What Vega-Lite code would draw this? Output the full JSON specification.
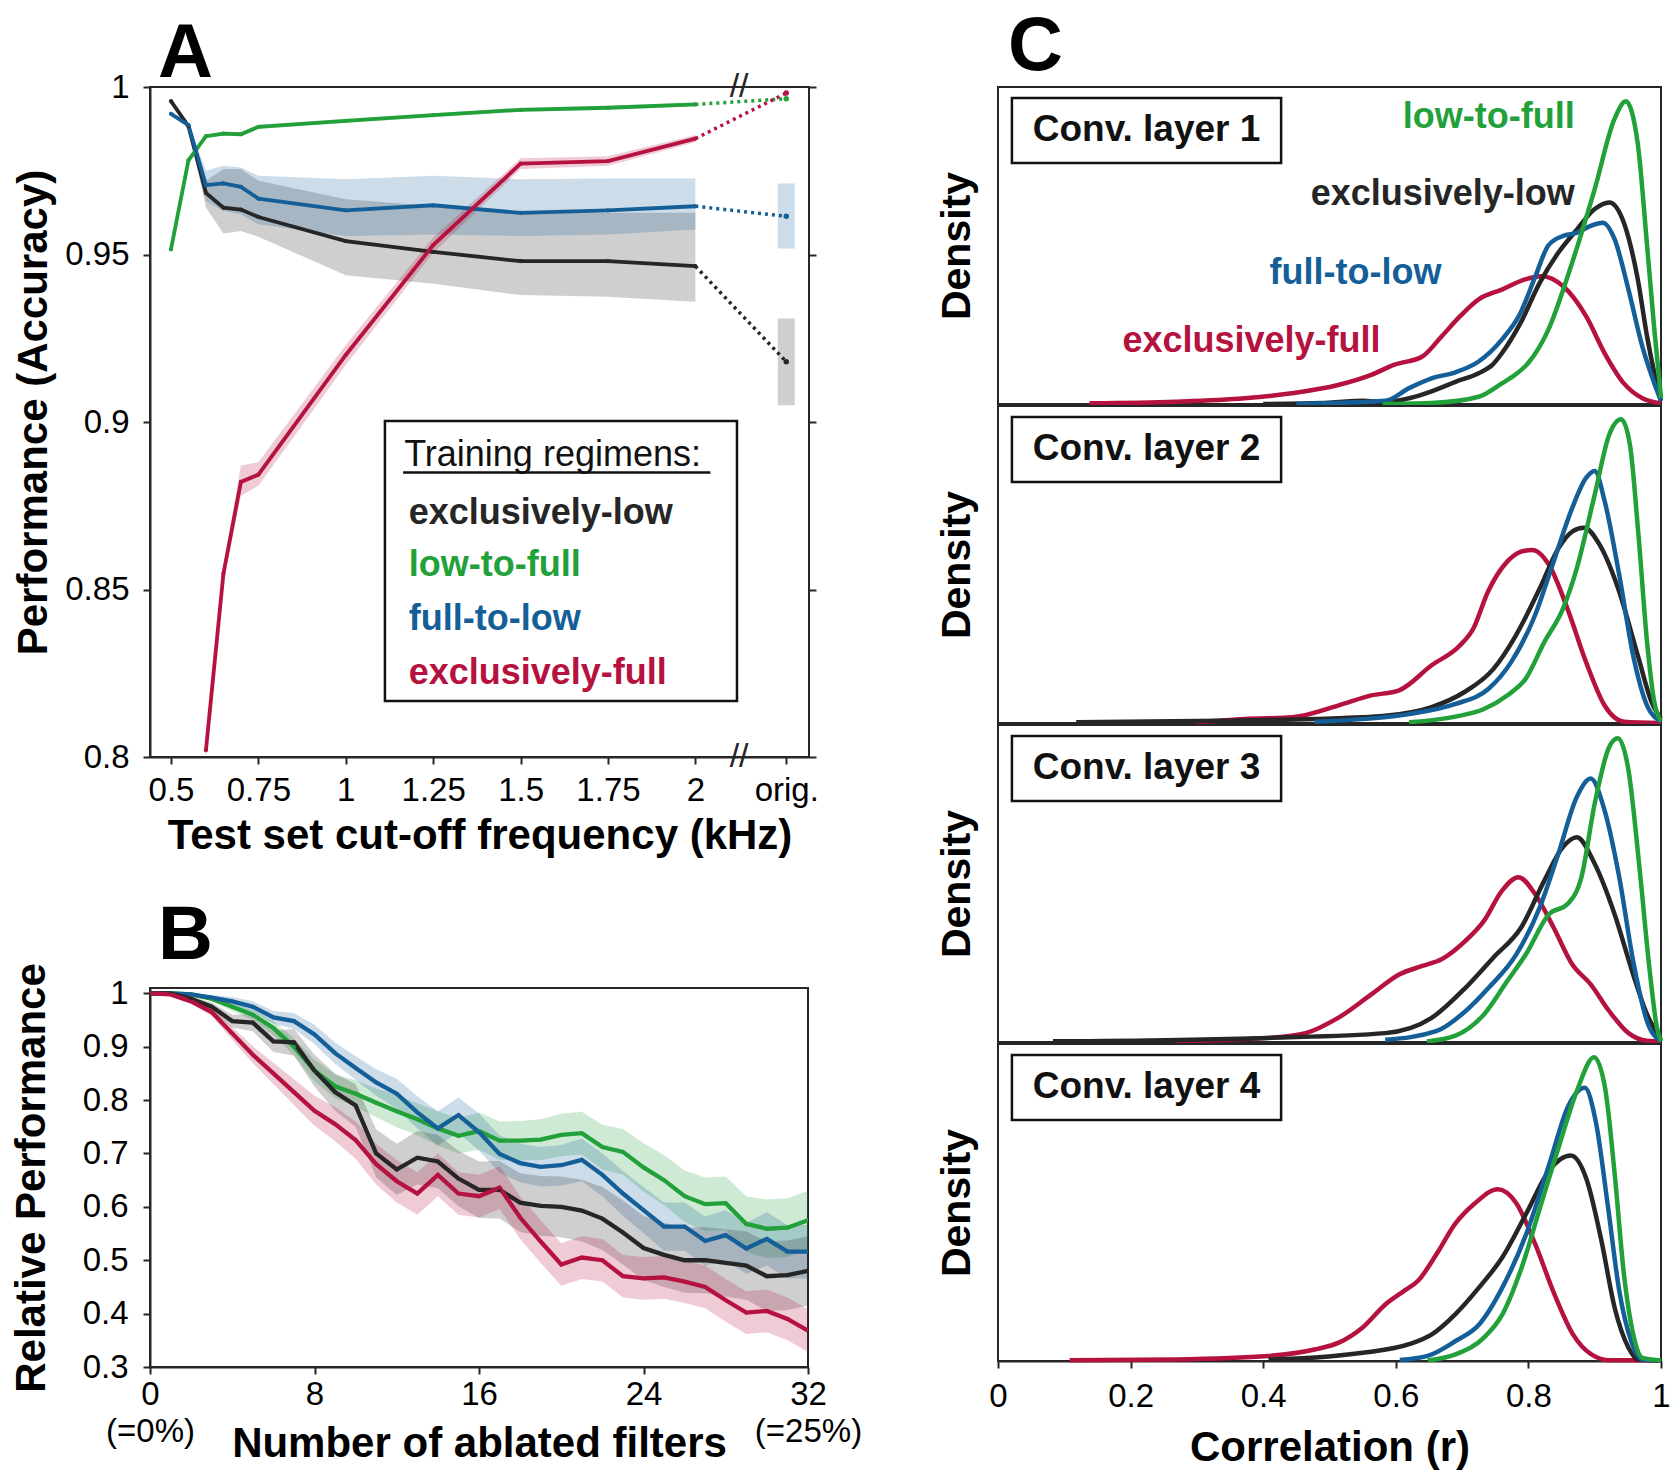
{
"$schema": "https://vega.github.io/schema/vega-lite/v6.json",
"background": "white",
"padding": {"left": 9, "top": 8, "right": 5, "bottom": 5},
"config": {
  "font": "Liberation Sans",
  "view": {"stroke": "#262626", "strokeWidth": 2},
  "axis": {"labelFont": "Liberation Sans", "titleFont": "Liberation Sans", "labelFontSize": 33, "labelColor": "#000", "titleFontSize": 42, "titleFontWeight": "bold", "titleColor": "#000", "grid": false, "domainColor": "#262626", "domainWidth": 2, "tickColor": "#262626", "tickWidth": 2, "tickSize": 7, "labelFlush": false, "labelOverlap": false},
  "title": {"font": "Liberation Sans", "fontSize": 76, "fontWeight": "bold", "anchor": "start", "frame": "group", "color": "#000"},
  "text": {"font": "Liberation Sans"}
},
"datasets": {
  "A": [
    {"s":"el","x":0.5,"y":0.9958,"lo":0.9952,"hi":0.9964},
    {"s":"el","x":0.55,"y":0.9883,"lo":0.9875,"hi":0.989},
    {"s":"el","x":0.6,"y":0.9684,"lo":0.964,"hi":0.972},
    {"s":"el","x":0.65,"y":0.964,"lo":0.9563,"hi":0.9755},
    {"s":"el","x":0.7,"y":0.9634,"lo":0.957,"hi":0.9755},
    {"s":"el","x":0.75,"y":0.9612,"lo":0.9553,"hi":0.972},
    {"s":"el","x":1,"y":0.954,"lo":0.9438,"hi":0.9665},
    {"s":"el","x":1.25,"y":0.9508,"lo":0.9413,"hi":0.9645},
    {"s":"el","x":1.5,"y":0.948,"lo":0.9379,"hi":0.963},
    {"s":"el","x":1.75,"y":0.948,"lo":0.9374,"hi":0.9625},
    {"s":"el","x":2,"y":0.9465,"lo":0.9359,"hi":0.9625},
    {"s":"el","x":2.26,"y":0.918,"lo":0.905,"hi":0.9309},
    {"s":"lf","x":0.5,"y":0.9515,"lo":0.951,"hi":0.952},
    {"s":"lf","x":0.55,"y":0.9781,"lo":0.9775,"hi":0.9787},
    {"s":"lf","x":0.6,"y":0.9853,"lo":0.9847,"hi":0.9859},
    {"s":"lf","x":0.65,"y":0.9861,"lo":0.9855,"hi":0.9867},
    {"s":"lf","x":0.7,"y":0.9859,"lo":0.9853,"hi":0.9865},
    {"s":"lf","x":0.75,"y":0.9881,"lo":0.9875,"hi":0.9887},
    {"s":"lf","x":1,"y":0.9899,"lo":0.9893,"hi":0.9905},
    {"s":"lf","x":1.25,"y":0.9916,"lo":0.991,"hi":0.9922},
    {"s":"lf","x":1.5,"y":0.9932,"lo":0.9926,"hi":0.9938},
    {"s":"lf","x":1.75,"y":0.9938,"lo":0.9932,"hi":0.9944},
    {"s":"lf","x":2,"y":0.9948,"lo":0.9942,"hi":0.9954},
    {"s":"lf","x":2.26,"y":0.9965,"lo":0.996,"hi":0.997},
    {"s":"fl","x":0.5,"y":0.992,"lo":0.9914,"hi":0.9926},
    {"s":"fl","x":0.55,"y":0.9886,"lo":0.988,"hi":0.9892},
    {"s":"fl","x":0.6,"y":0.9707,"lo":0.966,"hi":0.975},
    {"s":"fl","x":0.65,"y":0.9712,"lo":0.963,"hi":0.9765},
    {"s":"fl","x":0.7,"y":0.9702,"lo":0.962,"hi":0.976},
    {"s":"fl","x":0.75,"y":0.9667,"lo":0.959,"hi":0.9735},
    {"s":"fl","x":1,"y":0.9632,"lo":0.9555,"hi":0.9725},
    {"s":"fl","x":1.25,"y":0.9647,"lo":0.956,"hi":0.9735},
    {"s":"fl","x":1.5,"y":0.9624,"lo":0.9555,"hi":0.9725},
    {"s":"fl","x":1.75,"y":0.9632,"lo":0.956,"hi":0.9727},
    {"s":"fl","x":2,"y":0.9644,"lo":0.9575,"hi":0.9727},
    {"s":"fl","x":2.26,"y":0.9614,"lo":0.9518,"hi":0.9712},
    {"s":"ef","x":0.6,"y":0.802,"lo":0.8,"hi":0.804},
    {"s":"ef","x":0.65,"y":0.8547,"lo":0.852,"hi":0.857},
    {"s":"ef","x":0.7,"y":0.8821,"lo":0.878,"hi":0.887},
    {"s":"ef","x":0.75,"y":0.8843,"lo":0.881,"hi":0.888},
    {"s":"ef","x":1,"y":0.92,"lo":0.917,"hi":0.923},
    {"s":"ef","x":1.25,"y":0.9528,"lo":0.9505,"hi":0.9551},
    {"s":"ef","x":1.5,"y":0.9771,"lo":0.9755,"hi":0.9787},
    {"s":"ef","x":1.75,"y":0.9779,"lo":0.9765,"hi":0.9793},
    {"s":"ef","x":2,"y":0.9846,"lo":0.9835,"hi":0.9857},
    {"s":"ef","x":2.26,"y":0.9982,"lo":0.9978,"hi":0.9986}
  ],
  "legA": [
    {"s":"el","t":"exclusively-low","y":0.8722},
    {"s":"lf","t":"low-to-full","y":0.8567},
    {"s":"fl","t":"full-to-low","y":0.8407},
    {"s":"ef","t":"exclusively-full","y":0.8245}
  ],
  "B": [
    {"s":"lf","x":0,"y":1,"lo":1,"hi":1},{"s":"lf","x":1,"y":1,"lo":1,"hi":1},{"s":"lf","x":2,"y":0.998,"lo":0.995,"hi":1.001},{"s":"lf","x":3,"y":0.99,"lo":0.985,"hi":0.995},{"s":"lf","x":4,"y":0.975,"lo":0.967,"hi":0.983},{"s":"lf","x":5,"y":0.96,"lo":0.95,"hi":0.97},{"s":"lf","x":6,"y":0.935,"lo":0.922,"hi":0.948},{"s":"lf","x":7,"y":0.9,"lo":0.884,"hi":0.916},{"s":"lf","x":8,"y":0.855,"lo":0.835,"hi":0.875},{"s":"lf","x":9,"y":0.826,"lo":0.804,"hi":0.848},{"s":"lf","x":10,"y":0.812,"lo":0.787,"hi":0.837},{"s":"lf","x":11,"y":0.795,"lo":0.768,"hi":0.822},{"s":"lf","x":12,"y":0.779,"lo":0.749,"hi":0.809},{"s":"lf","x":13,"y":0.764,"lo":0.734,"hi":0.794},{"s":"lf","x":14,"y":0.747,"lo":0.715,"hi":0.779},{"s":"lf","x":15,"y":0.733,"lo":0.7,"hi":0.766},{"s":"lf","x":16,"y":0.742,"lo":0.707,"hi":0.777},{"s":"lf","x":17,"y":0.724,"lo":0.688,"hi":0.76},{"s":"lf","x":18,"y":0.724,"lo":0.687,"hi":0.761},{"s":"lf","x":19,"y":0.726,"lo":0.688,"hi":0.764},{"s":"lf","x":20,"y":0.735,"lo":0.695,"hi":0.775},{"s":"lf","x":21,"y":0.738,"lo":0.698,"hi":0.778},{"s":"lf","x":22,"y":0.712,"lo":0.67,"hi":0.754},{"s":"lf","x":23,"y":0.703,"lo":0.66,"hi":0.746},{"s":"lf","x":24,"y":0.674,"lo":0.629,"hi":0.719},{"s":"lf","x":25,"y":0.65,"lo":0.603,"hi":0.697},{"s":"lf","x":26,"y":0.62,"lo":0.572,"hi":0.668},{"s":"lf","x":27,"y":0.605,"lo":0.555,"hi":0.655},{"s":"lf","x":28,"y":0.607,"lo":0.557,"hi":0.657},{"s":"lf","x":29,"y":0.568,"lo":0.516,"hi":0.62},{"s":"lf","x":30,"y":0.559,"lo":0.504,"hi":0.614},{"s":"lf","x":31,"y":0.561,"lo":0.506,"hi":0.616},{"s":"lf","x":32,"y":0.575,"lo":0.52,"hi":0.63},
    {"s":"fl","x":0,"y":1,"lo":1,"hi":1},{"s":"fl","x":1,"y":1,"lo":1,"hi":1},{"s":"fl","x":2,"y":0.998,"lo":0.995,"hi":1.001},{"s":"fl","x":3,"y":0.992,"lo":0.987,"hi":0.997},{"s":"fl","x":4,"y":0.985,"lo":0.977,"hi":0.993},{"s":"fl","x":5,"y":0.975,"lo":0.965,"hi":0.985},{"s":"fl","x":6,"y":0.955,"lo":0.943,"hi":0.967},{"s":"fl","x":7,"y":0.948,"lo":0.933,"hi":0.963},{"s":"fl","x":8,"y":0.923,"lo":0.905,"hi":0.941},{"s":"fl","x":9,"y":0.888,"lo":0.868,"hi":0.908},{"s":"fl","x":10,"y":0.86,"lo":0.838,"hi":0.882},{"s":"fl","x":11,"y":0.833,"lo":0.808,"hi":0.858},{"s":"fl","x":12,"y":0.812,"lo":0.784,"hi":0.84},{"s":"fl","x":13,"y":0.777,"lo":0.747,"hi":0.807},{"s":"fl","x":14,"y":0.747,"lo":0.715,"hi":0.779},{"s":"fl","x":15,"y":0.772,"lo":0.739,"hi":0.805},{"s":"fl","x":16,"y":0.74,"lo":0.705,"hi":0.775},{"s":"fl","x":17,"y":0.699,"lo":0.664,"hi":0.734},{"s":"fl","x":18,"y":0.682,"lo":0.646,"hi":0.718},{"s":"fl","x":19,"y":0.675,"lo":0.638,"hi":0.712},{"s":"fl","x":20,"y":0.678,"lo":0.64,"hi":0.716},{"s":"fl","x":21,"y":0.688,"lo":0.648,"hi":0.728},{"s":"fl","x":22,"y":0.66,"lo":0.62,"hi":0.7},{"s":"fl","x":23,"y":0.625,"lo":0.583,"hi":0.667},{"s":"fl","x":24,"y":0.594,"lo":0.551,"hi":0.637},{"s":"fl","x":25,"y":0.563,"lo":0.518,"hi":0.608},{"s":"fl","x":26,"y":0.563,"lo":0.518,"hi":0.608},{"s":"fl","x":27,"y":0.536,"lo":0.49,"hi":0.582},{"s":"fl","x":28,"y":0.547,"lo":0.5,"hi":0.594},{"s":"fl","x":29,"y":0.522,"lo":0.474,"hi":0.57},{"s":"fl","x":30,"y":0.54,"lo":0.49,"hi":0.59},{"s":"fl","x":31,"y":0.516,"lo":0.466,"hi":0.566},{"s":"fl","x":32,"y":0.516,"lo":0.466,"hi":0.566},
    {"s":"el","x":0,"y":1,"lo":1,"hi":1},{"s":"el","x":1,"y":1,"lo":1,"hi":1},{"s":"el","x":2,"y":0.99,"lo":0.986,"hi":0.994},{"s":"el","x":3,"y":0.975,"lo":0.967,"hi":0.983},{"s":"el","x":4,"y":0.948,"lo":0.936,"hi":0.96},{"s":"el","x":5,"y":0.945,"lo":0.929,"hi":0.961},{"s":"el","x":6,"y":0.91,"lo":0.89,"hi":0.93},{"s":"el","x":7,"y":0.908,"lo":0.883,"hi":0.933},{"s":"el","x":8,"y":0.855,"lo":0.825,"hi":0.885},{"s":"el","x":9,"y":0.815,"lo":0.78,"hi":0.85},{"s":"el","x":10,"y":0.79,"lo":0.75,"hi":0.83},{"s":"el","x":11,"y":0.7,"lo":0.655,"hi":0.745},{"s":"el","x":12,"y":0.67,"lo":0.622,"hi":0.718},{"s":"el","x":13,"y":0.692,"lo":0.642,"hi":0.742},{"s":"el","x":14,"y":0.685,"lo":0.635,"hi":0.735},{"s":"el","x":15,"y":0.653,"lo":0.601,"hi":0.705},{"s":"el","x":16,"y":0.632,"lo":0.579,"hi":0.685},{"s":"el","x":17,"y":0.632,"lo":0.578,"hi":0.686},{"s":"el","x":18,"y":0.608,"lo":0.553,"hi":0.663},{"s":"el","x":19,"y":0.602,"lo":0.546,"hi":0.658},{"s":"el","x":20,"y":0.6,"lo":0.543,"hi":0.657},{"s":"el","x":21,"y":0.593,"lo":0.535,"hi":0.651},{"s":"el","x":22,"y":0.578,"lo":0.519,"hi":0.637},{"s":"el","x":23,"y":0.552,"lo":0.492,"hi":0.612},{"s":"el","x":24,"y":0.523,"lo":0.463,"hi":0.583},{"s":"el","x":25,"y":0.51,"lo":0.45,"hi":0.57},{"s":"el","x":26,"y":0.5,"lo":0.439,"hi":0.561},{"s":"el","x":27,"y":0.5,"lo":0.438,"hi":0.562},{"s":"el","x":28,"y":0.495,"lo":0.432,"hi":0.558},{"s":"el","x":29,"y":0.49,"lo":0.426,"hi":0.554},{"s":"el","x":30,"y":0.47,"lo":0.405,"hi":0.535},{"s":"el","x":31,"y":0.472,"lo":0.407,"hi":0.537},{"s":"el","x":32,"y":0.48,"lo":0.415,"hi":0.545},
    {"s":"ef","x":0,"y":1,"lo":1,"hi":1},{"s":"ef","x":1,"y":0.998,"lo":0.996,"hi":1},{"s":"ef","x":2,"y":0.985,"lo":0.981,"hi":0.989},{"s":"ef","x":3,"y":0.965,"lo":0.957,"hi":0.973},{"s":"ef","x":4,"y":0.925,"lo":0.913,"hi":0.937},{"s":"ef","x":5,"y":0.885,"lo":0.869,"hi":0.901},{"s":"ef","x":6,"y":0.85,"lo":0.83,"hi":0.87},{"s":"ef","x":7,"y":0.815,"lo":0.791,"hi":0.839},{"s":"ef","x":8,"y":0.78,"lo":0.752,"hi":0.808},{"s":"ef","x":9,"y":0.755,"lo":0.723,"hi":0.787},{"s":"ef","x":10,"y":0.725,"lo":0.69,"hi":0.76},{"s":"ef","x":11,"y":0.68,"lo":0.642,"hi":0.718},{"s":"ef","x":12,"y":0.648,"lo":0.608,"hi":0.688},{"s":"ef","x":13,"y":0.625,"lo":0.585,"hi":0.665},{"s":"ef","x":14,"y":0.66,"lo":0.62,"hi":0.7},{"s":"ef","x":15,"y":0.625,"lo":0.585,"hi":0.665},{"s":"ef","x":16,"y":0.62,"lo":0.58,"hi":0.66},{"s":"ef","x":17,"y":0.636,"lo":0.596,"hi":0.676},{"s":"ef","x":18,"y":0.58,"lo":0.54,"hi":0.62},{"s":"ef","x":19,"y":0.535,"lo":0.495,"hi":0.575},{"s":"ef","x":20,"y":0.492,"lo":0.452,"hi":0.532},{"s":"ef","x":21,"y":0.505,"lo":0.465,"hi":0.545},{"s":"ef","x":22,"y":0.5,"lo":0.46,"hi":0.54},{"s":"ef","x":23,"y":0.47,"lo":0.43,"hi":0.51},{"s":"ef","x":24,"y":0.466,"lo":0.426,"hi":0.506},{"s":"ef","x":25,"y":0.468,"lo":0.428,"hi":0.508},{"s":"ef","x":26,"y":0.46,"lo":0.42,"hi":0.5},{"s":"ef","x":27,"y":0.45,"lo":0.41,"hi":0.49},{"s":"ef","x":28,"y":0.425,"lo":0.385,"hi":0.465},{"s":"ef","x":29,"y":0.402,"lo":0.362,"hi":0.442},{"s":"ef","x":30,"y":0.405,"lo":0.365,"hi":0.445},{"s":"ef","x":31,"y":0.39,"lo":0.35,"hi":0.43},{"s":"ef","x":32,"y":0.368,"lo":0.328,"hi":0.408}
  ],
  "C": [
    {"p":1,"s":"ef","r":0.138,"d":0.002},{"p":1,"s":"ef","r":0.267,"d":0.007},{"p":1,"s":"ef","r":0.372,"d":0.018},{"p":1,"s":"ef","r":0.443,"d":0.034},{"p":1,"s":"ef","r":0.513,"d":0.06},{"p":1,"s":"ef","r":0.563,"d":0.092},{"p":1,"s":"ef","r":0.598,"d":0.124},{"p":1,"s":"ef","r":0.64,"d":0.15},{"p":1,"s":"ef","r":0.669,"d":0.213},{"p":1,"s":"ef","r":0.697,"d":0.277},{"p":1,"s":"ef","r":0.725,"d":0.33},{"p":1,"s":"ef","r":0.76,"d":0.361},{"p":1,"s":"ef","r":0.795,"d":0.393},{"p":1,"s":"ef","r":0.82,"d":0.403},{"p":1,"s":"ef","r":0.852,"d":0.372},{"p":1,"s":"ef","r":0.887,"d":0.277},{"p":1,"s":"ef","r":0.915,"d":0.16},{"p":1,"s":"ef","r":0.944,"d":0.065},{"p":1,"s":"ef","r":0.972,"d":0.018},{"p":1,"s":"ef","r":1.0,"d":0.002},
    {"p":1,"s":"el","r":0.40,"d":0.0},{"p":1,"s":"el","r":0.5,"d":0.004},{"p":1,"s":"el","r":0.55,"d":0.01},{"p":1,"s":"el","r":0.584,"d":0.006},{"p":1,"s":"el","r":0.62,"d":0.018},{"p":1,"s":"el","r":0.654,"d":0.04},{"p":1,"s":"el","r":0.69,"d":0.07},{"p":1,"s":"el","r":0.725,"d":0.097},{"p":1,"s":"el","r":0.746,"d":0.124},{"p":1,"s":"el","r":0.76,"d":0.16},{"p":1,"s":"el","r":0.788,"d":0.255},{"p":1,"s":"el","r":0.817,"d":0.382},{"p":1,"s":"el","r":0.845,"d":0.477},{"p":1,"s":"el","r":0.873,"d":0.55},{"p":1,"s":"el","r":0.90,"d":0.615},{"p":1,"s":"el","r":0.922,"d":0.636},{"p":1,"s":"el","r":0.944,"d":0.572},{"p":1,"s":"el","r":0.965,"d":0.393},{"p":1,"s":"el","r":0.979,"d":0.213},{"p":1,"s":"el","r":0.99,"d":0.097},{"p":1,"s":"el","r":1.0,"d":0.01},
    {"p":1,"s":"fl","r":0.45,"d":0.0},{"p":1,"s":"fl","r":0.584,"d":0.01},{"p":1,"s":"fl","r":0.62,"d":0.05},{"p":1,"s":"fl","r":0.654,"d":0.081},{"p":1,"s":"fl","r":0.69,"d":0.1},{"p":1,"s":"fl","r":0.725,"d":0.134},{"p":1,"s":"fl","r":0.76,"d":0.203},{"p":1,"s":"fl","r":0.788,"d":0.287},{"p":1,"s":"fl","r":0.81,"d":0.4},{"p":1,"s":"fl","r":0.83,"d":0.5},{"p":1,"s":"fl","r":0.852,"d":0.53},{"p":1,"s":"fl","r":0.873,"d":0.54},{"p":1,"s":"fl","r":0.894,"d":0.562},{"p":1,"s":"fl","r":0.912,"d":0.572},{"p":1,"s":"fl","r":0.93,"d":0.52},{"p":1,"s":"fl","r":0.951,"d":0.36},{"p":1,"s":"fl","r":0.972,"d":0.18},{"p":1,"s":"fl","r":0.99,"d":0.065},{"p":1,"s":"fl","r":1.0,"d":0.01},
    {"p":1,"s":"lf","r":0.58,"d":0.0},{"p":1,"s":"lf","r":0.66,"d":0.004},{"p":1,"s":"lf","r":0.725,"d":0.023},{"p":1,"s":"lf","r":0.76,"d":0.065},{"p":1,"s":"lf","r":0.78,"d":0.092},{"p":1,"s":"lf","r":0.80,"d":0.13},{"p":1,"s":"lf","r":0.83,"d":0.234},{"p":1,"s":"lf","r":0.866,"d":0.446},{"p":1,"s":"lf","r":0.9,"d":0.678},{"p":1,"s":"lf","r":0.93,"d":0.9},{"p":1,"s":"lf","r":0.947,"d":0.955},{"p":1,"s":"lf","r":0.965,"d":0.82},{"p":1,"s":"lf","r":0.979,"d":0.5},{"p":1,"s":"lf","r":0.99,"d":0.234},{"p":1,"s":"lf","r":1.0,"d":0.02},
    {"p":2,"s":"ef","r":0.3,"d":0.002},{"p":2,"s":"ef","r":0.372,"d":0.013},{"p":2,"s":"ef","r":0.443,"d":0.018},{"p":2,"s":"ef","r":0.513,"d":0.055},{"p":2,"s":"ef","r":0.563,"d":0.087},{"p":2,"s":"ef","r":0.605,"d":0.103},{"p":2,"s":"ef","r":0.654,"d":0.182},{"p":2,"s":"ef","r":0.697,"d":0.245},{"p":2,"s":"ef","r":0.717,"d":0.298},{"p":2,"s":"ef","r":0.739,"d":0.414},{"p":2,"s":"ef","r":0.768,"d":0.509},{"p":2,"s":"ef","r":0.788,"d":0.54},{"p":2,"s":"ef","r":0.806,"d":0.546},{"p":2,"s":"ef","r":0.831,"d":0.499},{"p":2,"s":"ef","r":0.859,"d":0.36},{"p":2,"s":"ef","r":0.887,"d":0.192},{"p":2,"s":"ef","r":0.915,"d":0.055},{"p":2,"s":"ef","r":0.944,"d":0.004},{"p":2,"s":"ef","r":1.0,"d":0.0},
    {"p":2,"s":"el","r":0.118,"d":0.002},{"p":2,"s":"el","r":0.337,"d":0.007},{"p":2,"s":"el","r":0.478,"d":0.013},{"p":2,"s":"el","r":0.584,"d":0.023},{"p":2,"s":"el","r":0.654,"d":0.05},{"p":2,"s":"el","r":0.703,"d":0.097},{"p":2,"s":"el","r":0.747,"d":0.17},{"p":2,"s":"el","r":0.781,"d":0.276},{"p":2,"s":"el","r":0.817,"d":0.424},{"p":2,"s":"el","r":0.845,"d":0.55},{"p":2,"s":"el","r":0.866,"d":0.604},{"p":2,"s":"el","r":0.884,"d":0.616},{"p":2,"s":"el","r":0.908,"d":0.56},{"p":2,"s":"el","r":0.937,"d":0.414},{"p":2,"s":"el","r":0.965,"d":0.213},{"p":2,"s":"el","r":0.986,"d":0.065},{"p":2,"s":"el","r":1.0,"d":0.013},
    {"p":2,"s":"fl","r":0.478,"d":0.004},{"p":2,"s":"fl","r":0.62,"d":0.028},{"p":2,"s":"fl","r":0.69,"d":0.06},{"p":2,"s":"fl","r":0.74,"d":0.108},{"p":2,"s":"fl","r":0.774,"d":0.192},{"p":2,"s":"fl","r":0.81,"d":0.34},{"p":2,"s":"fl","r":0.838,"d":0.509},{"p":2,"s":"fl","r":0.866,"d":0.678},{"p":2,"s":"fl","r":0.887,"d":0.773},{"p":2,"s":"fl","r":0.9,"d":0.795},{"p":2,"s":"fl","r":0.915,"d":0.7},{"p":2,"s":"fl","r":0.937,"d":0.467},{"p":2,"s":"fl","r":0.958,"d":0.213},{"p":2,"s":"fl","r":0.979,"d":0.055},{"p":2,"s":"fl","r":1.0,"d":0.005},
    {"p":2,"s":"lf","r":0.62,"d":0.002},{"p":2,"s":"lf","r":0.69,"d":0.02},{"p":2,"s":"lf","r":0.733,"d":0.044},{"p":2,"s":"lf","r":0.768,"d":0.087},{"p":2,"s":"lf","r":0.796,"d":0.14},{"p":2,"s":"lf","r":0.824,"d":0.255},{"p":2,"s":"lf","r":0.852,"d":0.36},{"p":2,"s":"lf","r":0.873,"d":0.488},{"p":2,"s":"lf","r":0.9,"d":0.72},{"p":2,"s":"lf","r":0.922,"d":0.91},{"p":2,"s":"lf","r":0.94,"d":0.958},{"p":2,"s":"lf","r":0.953,"d":0.88},{"p":2,"s":"lf","r":0.966,"d":0.593},{"p":2,"s":"lf","r":0.979,"d":0.255},{"p":2,"s":"lf","r":0.99,"d":0.065},{"p":2,"s":"lf","r":1.0,"d":0.005},
    {"p":3,"s":"ef","r":0.267,"d":0.002},{"p":3,"s":"ef","r":0.408,"d":0.013},{"p":3,"s":"ef","r":0.464,"d":0.028},{"p":3,"s":"ef","r":0.513,"d":0.076},{"p":3,"s":"ef","r":0.563,"d":0.15},{"p":3,"s":"ef","r":0.605,"d":0.213},{"p":3,"s":"ef","r":0.64,"d":0.24},{"p":3,"s":"ef","r":0.669,"d":0.261},{"p":3,"s":"ef","r":0.705,"d":0.319},{"p":3,"s":"ef","r":0.733,"d":0.382},{"p":3,"s":"ef","r":0.76,"d":0.477},{"p":3,"s":"ef","r":0.785,"d":0.52},{"p":3,"s":"ef","r":0.81,"d":0.467},{"p":3,"s":"ef","r":0.838,"d":0.361},{"p":3,"s":"ef","r":0.866,"d":0.245},{"p":3,"s":"ef","r":0.894,"d":0.182},{"p":3,"s":"ef","r":0.922,"d":0.097},{"p":3,"s":"ef","r":0.951,"d":0.028},{"p":3,"s":"ef","r":0.979,"d":0.004},{"p":3,"s":"ef","r":1.0,"d":0.002},
    {"p":3,"s":"el","r":0.083,"d":0.002},{"p":3,"s":"el","r":0.408,"d":0.013},{"p":3,"s":"el","r":0.584,"d":0.028},{"p":3,"s":"el","r":0.654,"d":0.076},{"p":3,"s":"el","r":0.705,"d":0.171},{"p":3,"s":"el","r":0.747,"d":0.266},{"p":3,"s":"el","r":0.789,"d":0.361},{"p":3,"s":"el","r":0.824,"d":0.509},{"p":3,"s":"el","r":0.852,"d":0.615},{"p":3,"s":"el","r":0.873,"d":0.646},{"p":3,"s":"el","r":0.9,"d":0.562},{"p":3,"s":"el","r":0.93,"d":0.403},{"p":3,"s":"el","r":0.958,"d":0.213},{"p":3,"s":"el","r":0.979,"d":0.087},{"p":3,"s":"el","r":1.0,"d":0.007},
    {"p":3,"s":"fl","r":0.584,"d":0.007},{"p":3,"s":"fl","r":0.661,"d":0.034},{"p":3,"s":"fl","r":0.705,"d":0.097},{"p":3,"s":"fl","r":0.74,"d":0.171},{"p":3,"s":"fl","r":0.782,"d":0.277},{"p":3,"s":"fl","r":0.817,"d":0.424},{"p":3,"s":"fl","r":0.845,"d":0.593},{"p":3,"s":"fl","r":0.873,"d":0.773},{"p":3,"s":"fl","r":0.894,"d":0.831},{"p":3,"s":"fl","r":0.915,"d":0.73},{"p":3,"s":"fl","r":0.937,"d":0.52},{"p":3,"s":"fl","r":0.958,"d":0.256},{"p":3,"s":"fl","r":0.979,"d":0.065},{"p":3,"s":"fl","r":1.0,"d":0.002},
    {"p":3,"s":"lf","r":0.647,"d":0.002},{"p":3,"s":"lf","r":0.69,"d":0.02},{"p":3,"s":"lf","r":0.733,"d":0.087},{"p":3,"s":"lf","r":0.768,"d":0.192},{"p":3,"s":"lf","r":0.796,"d":0.276},{"p":3,"s":"lf","r":0.831,"d":0.403},{"p":3,"s":"lf","r":0.859,"d":0.435},{"p":3,"s":"lf","r":0.88,"d":0.52},{"p":3,"s":"lf","r":0.9,"d":0.752},{"p":3,"s":"lf","r":0.922,"d":0.931},{"p":3,"s":"lf","r":0.935,"d":0.958},{"p":3,"s":"lf","r":0.951,"d":0.857},{"p":3,"s":"lf","r":0.968,"d":0.54},{"p":3,"s":"lf","r":0.983,"d":0.224},{"p":3,"s":"lf","r":0.994,"d":0.044},{"p":3,"s":"lf","r":1.0,"d":0.002},
    {"p":4,"s":"ef","r":0.108,"d":0.002},{"p":4,"s":"ef","r":0.267,"d":0.005},{"p":4,"s":"ef","r":0.408,"d":0.016},{"p":4,"s":"ef","r":0.479,"d":0.037},{"p":4,"s":"ef","r":0.514,"d":0.058},{"p":4,"s":"ef","r":0.55,"d":0.106},{"p":4,"s":"ef","r":0.585,"d":0.18},{"p":4,"s":"ef","r":0.613,"d":0.222},{"p":4,"s":"ef","r":0.634,"d":0.254},{"p":4,"s":"ef","r":0.662,"d":0.339},{"p":4,"s":"ef","r":0.69,"d":0.434},{"p":4,"s":"ef","r":0.719,"d":0.497},{"p":4,"s":"ef","r":0.754,"d":0.542},{"p":4,"s":"ef","r":0.782,"d":0.497},{"p":4,"s":"ef","r":0.81,"d":0.37},{"p":4,"s":"ef","r":0.839,"d":0.212},{"p":4,"s":"ef","r":0.867,"d":0.085},{"p":4,"s":"ef","r":0.895,"d":0.021},{"p":4,"s":"ef","r":0.923,"d":0.002},{"p":4,"s":"ef","r":1.0,"d":0.002},
    {"p":4,"s":"el","r":0.408,"d":0.005},{"p":4,"s":"el","r":0.479,"d":0.011},{"p":4,"s":"el","r":0.55,"d":0.026},{"p":4,"s":"el","r":0.62,"d":0.053},{"p":4,"s":"el","r":0.655,"d":0.085},{"p":4,"s":"el","r":0.69,"d":0.148},{"p":4,"s":"el","r":0.726,"d":0.233},{"p":4,"s":"el","r":0.761,"d":0.328},{"p":4,"s":"el","r":0.797,"d":0.466},{"p":4,"s":"el","r":0.832,"d":0.603},{"p":4,"s":"el","r":0.864,"d":0.648},{"p":4,"s":"el","r":0.888,"d":0.571},{"p":4,"s":"el","r":0.91,"d":0.381},{"p":4,"s":"el","r":0.93,"d":0.169},{"p":4,"s":"el","r":0.951,"d":0.042},{"p":4,"s":"el","r":0.965,"d":0.005},{"p":4,"s":"el","r":1.0,"d":0.002},
    {"p":4,"s":"fl","r":0.606,"d":0.003},{"p":4,"s":"fl","r":0.648,"d":0.016},{"p":4,"s":"fl","r":0.69,"d":0.063},{"p":4,"s":"fl","r":0.726,"d":0.116},{"p":4,"s":"fl","r":0.761,"d":0.233},{"p":4,"s":"fl","r":0.797,"d":0.402},{"p":4,"s":"fl","r":0.832,"d":0.624},{"p":4,"s":"fl","r":0.86,"d":0.804},{"p":4,"s":"fl","r":0.885,"d":0.862},{"p":4,"s":"fl","r":0.902,"d":0.751},{"p":4,"s":"fl","r":0.92,"d":0.487},{"p":4,"s":"fl","r":0.937,"d":0.222},{"p":4,"s":"fl","r":0.955,"d":0.063},{"p":4,"s":"fl","r":0.972,"d":0.005},{"p":4,"s":"fl","r":1.0,"d":0.002},
    {"p":4,"s":"lf","r":0.648,"d":0.002},{"p":4,"s":"lf","r":0.69,"d":0.021},{"p":4,"s":"lf","r":0.733,"d":0.074},{"p":4,"s":"lf","r":0.761,"d":0.148},{"p":4,"s":"lf","r":0.79,"d":0.296},{"p":4,"s":"lf","r":0.818,"d":0.487},{"p":4,"s":"lf","r":0.846,"d":0.677},{"p":4,"s":"lf","r":0.874,"d":0.857},{"p":4,"s":"lf","r":0.899,"d":0.958},{"p":4,"s":"lf","r":0.916,"d":0.857},{"p":4,"s":"lf","r":0.93,"d":0.593},{"p":4,"s":"lf","r":0.944,"d":0.275},{"p":4,"s":"lf","r":0.958,"d":0.085},{"p":4,"s":"lf","r":0.972,"d":0.01},{"p":4,"s":"lf","r":1.0,"d":0.002}
  ],
  "labC": [
    {"s":"lf","t":"low-to-full","r":0.87,"d":0.905},
    {"s":"el","t":"exclusively-low","r":0.87,"d":0.662},
    {"s":"fl","t":"full-to-low","r":0.669,"d":0.413},
    {"s":"ef","t":"exclusively-full","r":0.577,"d":0.199}
  ]
},
"bounds": "flush",
"spacing": 848,
"hconcat": [
 {
  "bounds": "flush",
  "spacing": 231,
  "vconcat": [
   {
    "width": 659, "height": 670,
    "title": {"text": "A", "dx": 8, "offset": -23},
    "resolve": {"axis": {"y": "independent"}},
    "layer": [
     {"data": {"name": "A"}, "transform": [{"filter": "datum.x <= 2"}],
      "mark": {"type": "area", "opacity": 0.22, "clip": true},
      "encoding": {
        "x": {"field": "x", "type": "quantitative", "scale": {"domain": [0.44, 2.325], "nice": false, "zero": false}, "axis": {"values": [0.5, 0.75, 1, 1.25, 1.5, 1.75, 2, 2.26], "labelExpr": "datum.value > 2.1 ? 'orig.' : '' + datum.value", "title": "Test set cut-off frequency (kHz)", "labelPadding": 10, "titlePadding": 8}},
        "y": {"field": "lo", "type": "quantitative", "stack": null, "scale": {"domain": [0.8, 1], "nice": false, "zero": false}, "axis": {"values": [0.8, 0.85, 0.9, 0.95, 1], "format": "~g", "title": "Performance (Accuracy)", "labelPadding": 14, "titlePadding": 9, "titleY": 325}},
        "y2": {"field": "hi"},
        "color": {"field": "s", "type": "nominal", "scale": {"domain": ["el", "lf", "fl", "ef"], "range": ["#262626", "#22a03a", "#155f99", "#b5123f"]}, "legend": null}
      }},
     {"data": {"name": "A"}, "transform": [{"filter": "datum.x > 2 && (datum.s == 'el' || datum.s == 'fl')"}],
      "mark": {"type": "rule", "strokeWidth": 17, "opacity": 0.22, "strokeCap": "butt"},
      "encoding": {
        "x": {"field": "x", "type": "quantitative"},
        "y": {"field": "lo", "type": "quantitative", "axis": null},
        "y2": {"field": "hi"},
        "color": {"field": "s", "type": "nominal", "scale": {"domain": ["el", "lf", "fl", "ef"], "range": ["#262626", "#22a03a", "#155f99", "#b5123f"]}, "legend": null}
      }},
     {"data": {"name": "A"}, "transform": [{"filter": "datum.x >= 2"}],
      "mark": {"type": "line", "strokeWidth": 3.5, "strokeDash": [3, 4]},
      "encoding": {
        "x": {"field": "x", "type": "quantitative"},
        "y": {"field": "y", "type": "quantitative", "axis": null},
        "color": {"field": "s", "type": "nominal", "scale": {"domain": ["el", "lf", "fl", "ef"], "range": ["#262626", "#22a03a", "#155f99", "#b5123f"]}, "legend": null}
      }},
     {"data": {"name": "A"}, "transform": [{"filter": "datum.x <= 2"}],
      "mark": {"type": "line", "strokeWidth": 3.8, "clip": true, "point": {"filled": true, "size": 18}},
      "encoding": {
        "x": {"field": "x", "type": "quantitative"},
        "y": {"field": "y", "type": "quantitative", "axis": null},
        "color": {"field": "s", "type": "nominal", "scale": {"domain": ["el", "lf", "fl", "ef"], "range": ["#262626", "#22a03a", "#155f99", "#b5123f"]}, "legend": null}
      }},
     {"data": {"name": "A"}, "transform": [{"filter": "datum.x > 2"}],
      "mark": {"type": "point", "filled": true, "size": 30, "opacity": 1},
      "encoding": {
        "x": {"field": "x", "type": "quantitative"},
        "y": {"field": "y", "type": "quantitative", "axis": null},
        "color": {"field": "s", "type": "nominal", "scale": {"domain": ["el", "lf", "fl", "ef"], "range": ["#262626", "#22a03a", "#155f99", "#b5123f"]}, "legend": null}
      }},
     {"data": {"values": [{}]},
      "mark": {"type": "rect", "fill": "white", "stroke": "#111", "strokeWidth": 2.5},
      "encoding": {
        "x": {"datum": 1.112, "type": "quantitative"}, "x2": {"datum": 2.119},
        "y": {"datum": 0.9003, "type": "quantitative", "axis": null}, "y2": {"datum": 0.8167}
      }},
     {"data": {"values": [{}]},
      "mark": {"type": "text", "align": "left", "baseline": "middle", "fontSize": 36, "color": "#111"},
      "encoding": {
        "x": {"datum": 1.167, "type": "quantitative"},
        "y": {"datum": 0.8902, "type": "quantitative", "axis": null},
        "text": {"value": "Training regimens:"}
      }},
     {"data": {"values": [{}]},
      "mark": {"type": "rule", "strokeWidth": 2.5, "color": "#111"},
      "encoding": {
        "x": {"datum": 1.164, "type": "quantitative"}, "x2": {"datum": 2.043},
        "y": {"datum": 0.8849, "type": "quantitative", "axis": null}
      }},
     {"data": {"name": "legA"},
      "mark": {"type": "text", "align": "left", "baseline": "middle", "fontSize": 36, "fontWeight": "bold", "dy": -2},
      "encoding": {
        "x": {"datum": 1.18, "type": "quantitative"},
        "y": {"field": "y", "type": "quantitative", "axis": null},
        "text": {"field": "t"},
        "color": {"field": "s", "type": "nominal", "scale": {"domain": ["el", "lf", "fl", "ef"], "range": ["#262626", "#22a03a", "#155f99", "#b5123f"]}, "legend": null}
      }},
     {"data": {"values": [{"y": 1.0}, {"y": 0.8}]},
      "mark": {"type": "text", "align": "center", "baseline": "middle", "fontSize": 34, "color": "#262626", "text": "//"},
      "encoding": {
        "x": {"datum": 2.125, "type": "quantitative"},
        "y": {"field": "y", "type": "quantitative", "axis": null}
      }},
     {"data": {"name": "A"},
      "mark": {"type": "point", "opacity": 0},
      "encoding": {
        "x": {"field": "x", "type": "quantitative"},
        "y": {"field": "y", "type": "quantitative", "axis": {"orient": "right", "labels": false, "domain": false, "title": null, "values": [0.8, 0.85, 0.9, 0.95, 1]}}
      }}
    ]
   },
   {
    "width": 658, "height": 379,
    "title": {"text": "B", "dx": 8, "offset": -12},
    "data": {"name": "B"},
    "layer": [
     {"mark": {"type": "area", "opacity": 0.22, "clip": true},
      "encoding": {
        "x": {"field": "x", "type": "quantitative", "scale": {"domain": [0, 32], "nice": false}, "axis": {"values": [0, 8, 16, 24, 32], "labelExpr": "datum.value == 0 ? ['0', '(=0%)'] : datum.value == 32 ? ['32', '(=25%)'] : datum.label", "labelLineHeight": 37, "labelPadding": 4, "title": "Number of ablated filters", "titleY": 76, "titleBaseline": "middle"}},
        "y": {"field": "lo", "type": "quantitative", "stack": null, "scale": {"domain": [0.3, 1.01], "nice": false, "zero": false}, "axis": {"values": [0.3, 0.4, 0.5, 0.6, 0.7, 0.8, 0.9, 1], "format": "~g", "title": "Relative Performance", "labelPadding": 15, "titlePadding": 29}},
        "y2": {"field": "hi"},
        "color": {"field": "s", "type": "nominal", "scale": {"domain": ["el", "lf", "fl", "ef"], "range": ["#262626", "#22a03a", "#155f99", "#b5123f"]}, "legend": null}
      }},
     {"mark": {"type": "line", "strokeWidth": 4.3, "clip": true, "point": {"filled": true, "size": 14}},
      "encoding": {
        "x": {"field": "x", "type": "quantitative"},
        "y": {"field": "y", "type": "quantitative"},
        "color": {"field": "s", "type": "nominal", "scale": {"domain": ["el", "lf", "fl", "ef"], "range": ["#262626", "#22a03a", "#155f99", "#b5123f"]}, "legend": null}
      }}
    ]
   }
  ]
 },
 {
  "bounds": "flush",
  "spacing": 2,
  "vconcat": [
   {
    "width": 663, "height": 317,
    "title": {"text": "C", "dx": 10, "offset": 1},
    "layer": [
     {"data": {"name": "C"}, "transform": [{"filter": "datum.p == 1"}],
      "mark": {"type": "line", "strokeWidth": 4.5, "interpolate": "monotone"},
      "encoding": {
        "x": {"field": "r", "type": "quantitative", "scale": {"domain": [0, 1], "nice": false}, "axis": null},
        "y": {"field": "d", "type": "quantitative", "scale": {"domain": [0, 1], "nice": false}, "axis": {"title": "Density", "titleFontSize": 41, "labels": false, "ticks": false, "domain": false, "titlePadding": 20}},
        "color": {"field": "s", "type": "nominal", "scale": {"domain": ["el", "lf", "fl", "ef"], "range": ["#262626", "#22a03a", "#155f99", "#b5123f"]}, "legend": null}
      }},
     {"data": {"values": [{}]},
      "mark": {"type": "rect", "fill": "white", "stroke": "#111", "strokeWidth": 2.5},
      "encoding": {"x": {"datum": 0.021, "type": "quantitative"}, "x2": {"datum": 0.427}, "y": {"datum": 0.965, "type": "quantitative"}, "y2": {"datum": 0.76}}},
     {"data": {"values": [{}]},
      "mark": {"type": "text", "fontSize": 37, "fontWeight": "bold", "color": "#111", "baseline": "middle"},
      "encoding": {"x": {"datum": 0.224, "type": "quantitative"}, "y": {"datum": 0.863, "type": "quantitative"}, "text": {"value": "Conv. layer 1"}}},
     {"data": {"name": "labC"},
      "mark": {"type": "text", "fontSize": 36, "fontWeight": "bold", "align": "right", "baseline": "middle"},
      "encoding": {"x": {"field": "r", "type": "quantitative"}, "y": {"field": "d", "type": "quantitative"}, "text": {"field": "t"},
        "color": {"field": "s", "type": "nominal", "scale": {"domain": ["el", "lf", "fl", "ef"], "range": ["#262626", "#22a03a", "#155f99", "#b5123f"]}, "legend": null}}}
    ]
   },
   {
    "width": 663, "height": 317,
    "layer": [
     {"data": {"name": "C"}, "transform": [{"filter": "datum.p == 2"}],
      "mark": {"type": "line", "strokeWidth": 4.5, "interpolate": "monotone"},
      "encoding": {
        "x": {"field": "r", "type": "quantitative", "scale": {"domain": [0, 1], "nice": false}, "axis": null},
        "y": {"field": "d", "type": "quantitative", "scale": {"domain": [0, 1], "nice": false}, "axis": {"title": "Density", "titleFontSize": 41, "labels": false, "ticks": false, "domain": false, "titlePadding": 20}},
        "color": {"field": "s", "type": "nominal", "scale": {"domain": ["el", "lf", "fl", "ef"], "range": ["#262626", "#22a03a", "#155f99", "#b5123f"]}, "legend": null}
      }},
     {"data": {"values": [{}]},
      "mark": {"type": "rect", "fill": "white", "stroke": "#111", "strokeWidth": 2.5},
      "encoding": {"x": {"datum": 0.021, "type": "quantitative"}, "x2": {"datum": 0.427}, "y": {"datum": 0.965, "type": "quantitative"}, "y2": {"datum": 0.76}}},
     {"data": {"values": [{}]},
      "mark": {"type": "text", "fontSize": 37, "fontWeight": "bold", "color": "#111", "baseline": "middle"},
      "encoding": {"x": {"datum": 0.224, "type": "quantitative"}, "y": {"datum": 0.863, "type": "quantitative"}, "text": {"value": "Conv. layer 2"}}}
    ]
   },
   {
    "width": 663, "height": 317,
    "layer": [
     {"data": {"name": "C"}, "transform": [{"filter": "datum.p == 3"}],
      "mark": {"type": "line", "strokeWidth": 4.5, "interpolate": "monotone"},
      "encoding": {
        "x": {"field": "r", "type": "quantitative", "scale": {"domain": [0, 1], "nice": false}, "axis": null},
        "y": {"field": "d", "type": "quantitative", "scale": {"domain": [0, 1], "nice": false}, "axis": {"title": "Density", "titleFontSize": 41, "labels": false, "ticks": false, "domain": false, "titlePadding": 20}},
        "color": {"field": "s", "type": "nominal", "scale": {"domain": ["el", "lf", "fl", "ef"], "range": ["#262626", "#22a03a", "#155f99", "#b5123f"]}, "legend": null}
      }},
     {"data": {"values": [{}]},
      "mark": {"type": "rect", "fill": "white", "stroke": "#111", "strokeWidth": 2.5},
      "encoding": {"x": {"datum": 0.021, "type": "quantitative"}, "x2": {"datum": 0.427}, "y": {"datum": 0.965, "type": "quantitative"}, "y2": {"datum": 0.76}}},
     {"data": {"values": [{}]},
      "mark": {"type": "text", "fontSize": 37, "fontWeight": "bold", "color": "#111", "baseline": "middle"},
      "encoding": {"x": {"datum": 0.224, "type": "quantitative"}, "y": {"datum": 0.863, "type": "quantitative"}, "text": {"value": "Conv. layer 3"}}}
    ]
   },
   {
    "width": 663, "height": 317,
    "layer": [
     {"data": {"name": "C"}, "transform": [{"filter": "datum.p == 4"}],
      "mark": {"type": "line", "strokeWidth": 4.5, "interpolate": "monotone"},
      "encoding": {
        "x": {"field": "r", "type": "quantitative", "scale": {"domain": [0, 1], "nice": false}, "axis": {"values": [0, 0.2, 0.4, 0.6, 0.8, 1], "format": "~g", "title": "Correlation (r)", "labelPadding": 12, "titlePadding": 14}},
        "y": {"field": "d", "type": "quantitative", "scale": {"domain": [0, 1], "nice": false}, "axis": {"title": "Density", "titleFontSize": 41, "labels": false, "ticks": false, "domain": false, "titlePadding": 20}},
        "color": {"field": "s", "type": "nominal", "scale": {"domain": ["el", "lf", "fl", "ef"], "range": ["#262626", "#22a03a", "#155f99", "#b5123f"]}, "legend": null}
      }},
     {"data": {"values": [{}]},
      "mark": {"type": "rect", "fill": "white", "stroke": "#111", "strokeWidth": 2.5},
      "encoding": {"x": {"datum": 0.021, "type": "quantitative"}, "x2": {"datum": 0.427}, "y": {"datum": 0.965, "type": "quantitative"}, "y2": {"datum": 0.76}}},
     {"data": {"values": [{}]},
      "mark": {"type": "text", "fontSize": 37, "fontWeight": "bold", "color": "#111", "baseline": "middle"},
      "encoding": {"x": {"datum": 0.224, "type": "quantitative"}, "y": {"datum": 0.863, "type": "quantitative"}, "text": {"value": "Conv. layer 4"}}}
    ]
   }
  ]
 }
]
}
